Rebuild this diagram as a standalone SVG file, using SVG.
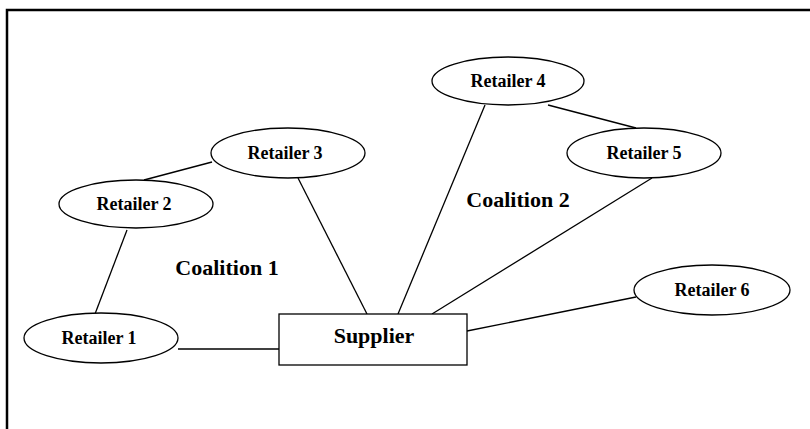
<svg xmlns="http://www.w3.org/2000/svg" width="810" height="429" viewBox="0 0 810 429">
<style>
.node{fill:#fff;stroke:#000;stroke-width:1.3}
.lbl{font-family:"Liberation Serif",serif;font-weight:bold;font-size:18px;text-anchor:middle;fill:#000}
.big{font-family:"Liberation Serif",serif;font-weight:bold;font-size:22px;text-anchor:middle;fill:#000}
.edge{stroke:#000;stroke-width:1.3;fill:none}
</style>
<rect width="810" height="429" fill="#fff"/>
<path d="M7,429 V10 H810" fill="none" stroke="#000" stroke-width="2.5"/>
<g id="connectors">
<line class="edge" x1="212" y1="162" x2="144" y2="180"/>
<line class="edge" x1="127" y1="230" x2="95" y2="314"/>
<line class="edge" x1="298" y1="178" x2="367" y2="314"/>
<line class="edge" x1="485" y1="105" x2="398" y2="314"/>
<line class="edge" x1="548" y1="105" x2="636" y2="128"/>
<line class="edge" x1="652" y1="178" x2="432" y2="314"/>
<line class="edge" x1="636" y1="297" x2="467" y2="331"/>
<line class="edge" x1="178" y1="349" x2="279" y2="349"/>
</g>
<g id="retailer4"><ellipse class="node" cx="508" cy="81" rx="76" ry="24"/><text class="lbl" x="508" y="87">Retailer 4</text></g>
<g id="retailer3"><ellipse class="node" cx="288" cy="153" rx="77" ry="25"/><text class="lbl" x="285" y="159">Retailer 3</text></g>
<g id="retailer2"><ellipse class="node" cx="136" cy="204" rx="77" ry="24"/><text class="lbl" x="134" y="210">Retailer 2</text></g>
<g id="retailer5"><ellipse class="node" cx="644" cy="153" rx="77" ry="25"/><text class="lbl" x="644" y="159">Retailer 5</text></g>
<g id="retailer6"><ellipse class="node" cx="712" cy="290" rx="78" ry="25"/><text class="lbl" x="712" y="296">Retailer 6</text></g>
<g id="retailer1"><ellipse class="node" cx="101" cy="338" rx="77" ry="25"/><text class="lbl" x="99" y="344">Retailer 1</text></g>
<g id="supplier"><rect class="node" x="279" y="314" width="188" height="51"/><text class="big" x="374" y="343">Supplier</text></g>
<g id="labels">
<text class="big" x="227" y="275">Coalition 1</text>
<text class="big" x="518" y="207">Coalition 2</text>
</g>
</svg>
